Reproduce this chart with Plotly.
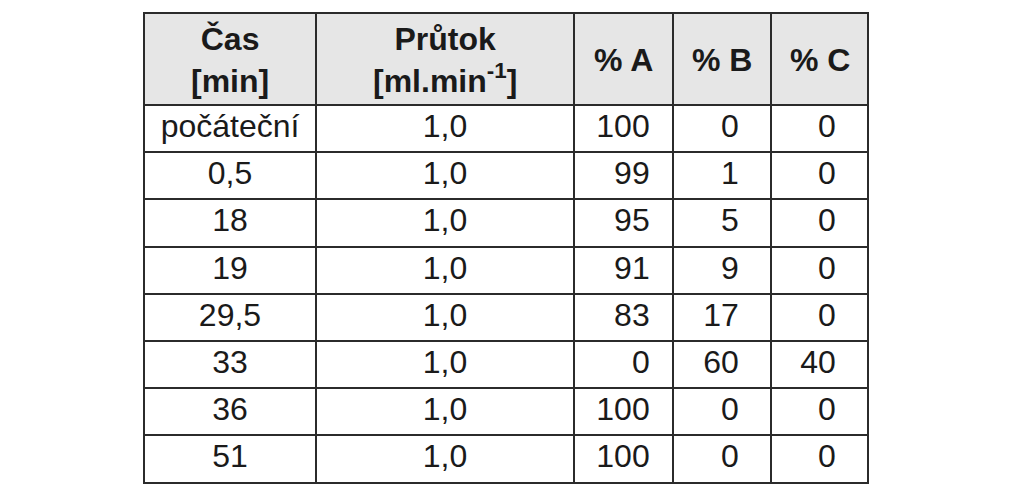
import plotly.graph_objects as go

# header labels
headers = ["<b>Čas<br>[min]</b>",
           "<b>Průtok<br>[ml.min<sup>-1</sup>]</b>",
           "<b>% A</b>", "<b>% B</b>", "<b>% C</b>"]

# table data
cas = ["počáteční", "0,5", "18", "19", "29,5", "33", "36", "51"]
prutok = [1.0, 1.0, 1.0, 1.0, 1.0, 1.0, 1.0, 1.0]
pct_a = [100, 99, 95, 91, 83, 0, 100, 100]
pct_b = [0, 1, 5, 9, 17, 60, 0, 0]
pct_c = [0, 0, 0, 0, 0, 40, 0, 0]

W, H = 1023, 489
left, right, top = 136, 860, 5
col_px = [172, 258, 99, 98, 97]
hdr_h = 92

nb = "\u00a0"
thin = "\u2009"

def rpad(vals, pad):
    return [str(v) + pad for v in vals]

fmt_prutok = [f"{v:.1f}".replace(".", ",") for v in prutok]

fig = go.Figure(go.Table(
    domain=dict(x=[left / W, right / W], y=[0, 1 - top / H]),
    columnwidth=col_px,
    header=dict(
        values=["", "", "", "", ""],  # header text drawn as annotations below
        fill_color="#e6e6e6",
        line=dict(color="#2b2b2b", width=2),
        height=hdr_h,
    ),
    cells=dict(
        values=[cas, fmt_prutok, rpad(pct_a, nb + thin),
                rpad(pct_b, nb + nb + thin), rpad(pct_c, nb + nb + thin)],
        fill_color="white",
        line=dict(color="#2b2b2b", width=2),
        align=["center", "center", "right", "right", "right"],
        height=47.2,
        font=dict(family="Liberation Sans, Arial", size=32, color="#1a1a1a"),
    ),
))

# header labels, each line centred in its column
edges = [left]
for w in col_px:
    edges.append(edges[-1] + w)
for i, h in enumerate(headers):
    cx = (edges[i] + edges[i + 1]) / 2
    fig.add_annotation(
        x=cx / W, y=1 - (top + 47) / H, xref="paper", yref="paper",
        text=h, showarrow=False, xanchor="center", yanchor="middle", align="center",
        font=dict(family="Liberation Sans, Arial", size=32, color="#1a1a1a"),
    )

fig.update_layout(
    width=W, height=H,
    margin=dict(l=0, r=0, t=0, b=0),
    paper_bgcolor="white",
)

fig.write_html("out.html")
